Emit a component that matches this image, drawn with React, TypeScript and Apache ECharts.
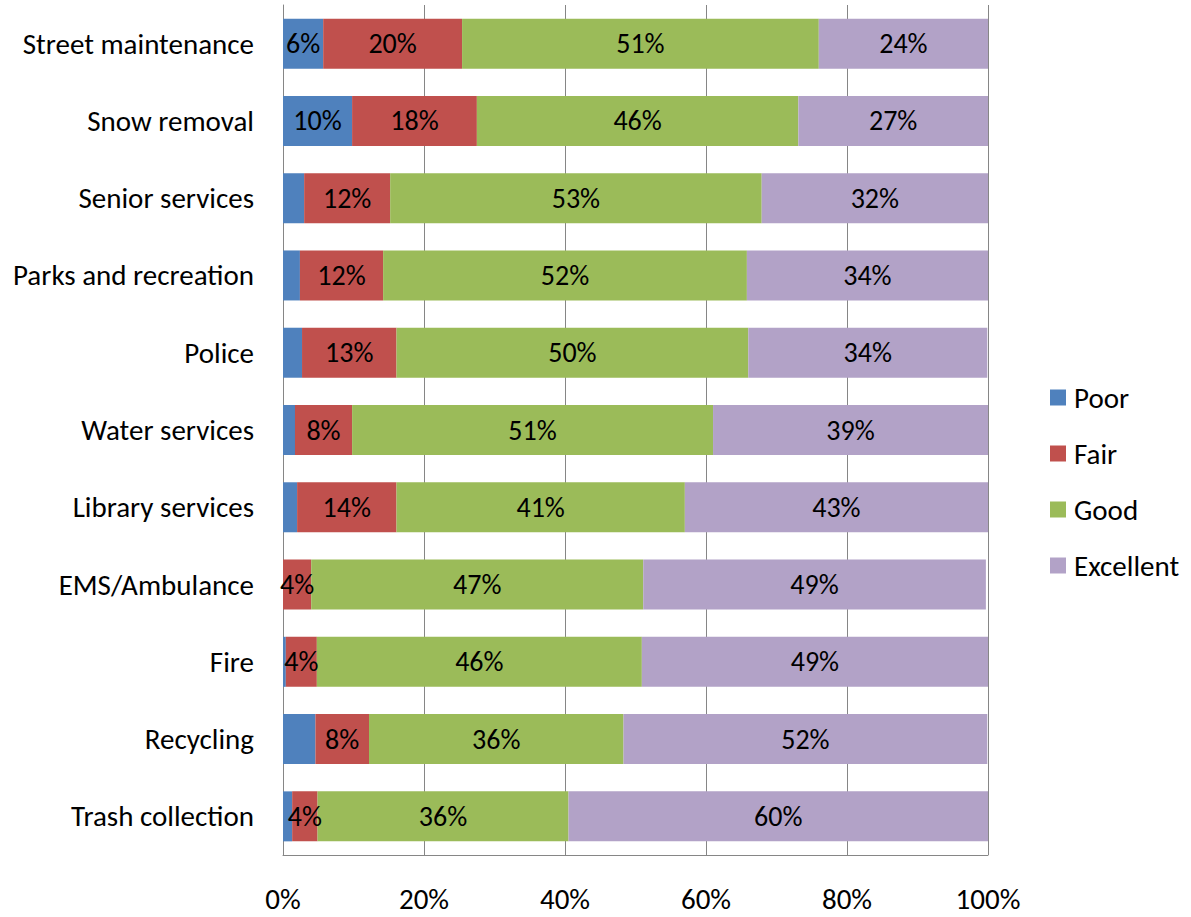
import React, { useEffect, useRef } from "react";
import * as echarts from "echarts";

const categories = [
  "Street maintenance",
  "Snow removal",
  "Senior services",
  "Parks and recreation",
  "Police",
  "Water services",
  "Library services",
  "EMS/Ambulance",
  "Fire",
  "Recycling",
  "Trash collection",
];

const seriesNames = ["Poor", "Fair", "Good", "Excellent"];
const poor = [5.7, 9.8, 3.0, 2.4, 2.7, 1.7, 2.0, 0, 0.4, 4.6, 1.3];
const fair = [19.7, 17.7, 12.2, 11.8, 13.4, 8.1, 14.1, 4.0, 4.4, 7.6, 3.6];
const good = [50.6, 45.6, 52.7, 51.6, 49.9, 51.2, 40.9, 47.1, 46.1, 36.1, 35.6];
const excellent = [24.0, 26.9, 32.1, 34.2, 33.9, 39.0, 43.0, 48.6, 49.1, 51.6, 59.5];
const xTicks = [0, 20, 40, 60, 80, 100];

const colors = ["#4F81BD", "#C0504D", "#9BBB59", "#B2A2C7"];
const FONT = "Carlito, Calibri, 'Liberation Sans', Arial, sans-serif";

export default function App() {
  const ref = useRef<HTMLDivElement>(null);

  useEffect(() => {
    if (!ref.current) return;
    const chart = echarts.init(ref.current, null, { renderer: "svg" });
    const values = [poor, fair, good, excellent];
    const series = seriesNames.map((name, i) => ({
      name,
      type: "bar",
      stack: "total",
      barWidth: 50,
      itemStyle: { color: colors[i] },
      label: {
        show: true,
        position: "inside",
        color: "#000",
        fontFamily: FONT,
        fontSize: 28,
        formatter: (p: any) => {
          const v = p.value as number;
          if (v <= 0) return "";
          if (i === 0 && v < 5) return "";
          return Math.round(v) + "%";
        },
      },
      data: values[i],
    }));

    chart.setOption({
      animation: false,
      textStyle: { fontFamily: FONT },
      color: colors,
      grid: { left: 283, right: 203, top: 5, bottom: 62, containLabel: false },
      legend: {
        orient: "vertical",
        left: 1045,
        top: 378,
        itemWidth: 16,
        itemHeight: 16,
        itemGap: 27,
        icon: "rect",
        data: seriesNames,
        textStyle: {
          fontFamily: FONT,
          fontSize: 29,
          lineHeight: 29,
          color: "#000",
          padding: [0, 0, 0, 3],
        },
      },
      xAxis: {
        type: "value",
        min: xTicks[0],
        max: xTicks[xTicks.length - 1],
        interval: 20,
        axisLine: { show: true, lineStyle: { color: "#868686", width: 1 } },
        axisTick: { show: false },
        splitLine: { show: true, lineStyle: { color: "#868686", width: 1 } },
        axisLabel: {
          margin: 31,
          fontFamily: FONT,
          fontSize: 29,
          lineHeight: 26,
          color: "#000",
          formatter: (v: number) => v + "%",
        },
      },
      yAxis: {
        type: "category",
        inverse: true,
        data: categories,
        axisLine: { show: true, lineStyle: { color: "#868686", width: 1 } },
        axisTick: { show: false },
        axisLabel: {
          margin: 29,
          fontFamily: FONT,
          fontSize: 29,
          color: "#000",
        },
      },
      series,
    });

    return () => chart.dispose();
  }, []);

  return (
    <div
      ref={ref}
      style={{ position: "fixed", left: 0, top: 0, width: 1191, height: 917, background: "#fff" }}
    />
  );
}
